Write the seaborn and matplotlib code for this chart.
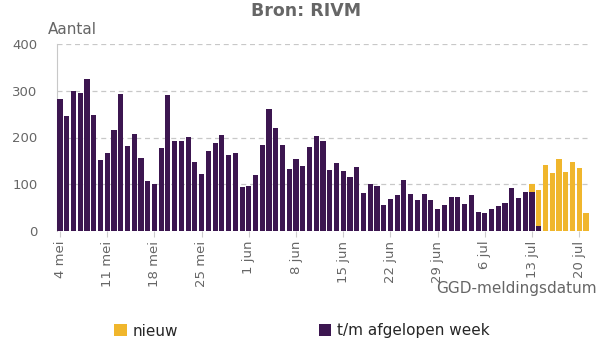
import matplotlib
matplotlib.use("Agg")
import matplotlib.pyplot as plt
import seaborn as sns
import pandas as pd
import numpy as np
from matplotlib.patches import Patch

# ---- data ----
dates = pd.date_range("2020-05-04", "2020-07-21", freq="D")
afgelopen_week = [283, 246, 299, 296, 326, 249, 152, 167, 217, 294, 182, 208, 157, 107, 101, 178,
                  291, 193, 193, 201, 148, 122, 171, 189, 206, 163, 167, 95, 97, 120, 184, 261,
                  221, 184, 133, 155, 139, 180, 204, 193, 131, 146, 129, 116, 137, 81, 101, 97,
                  56, 69, 76, 109, 79, 66, 79, 66, 47, 56, 73, 73, 58, 77, 41, 39, 47, 54, 60,
                  92, 71, 84, 84, 11, 0, 0, 0, 0, 0, 0, 0]
nieuw = [0] * 70 + [17, 77, 141, 124, 154, 126, 148, 135, 39]
tick_days = [0, 7, 14, 21, 28, 35, 42, 49, 56, 63, 70, 77]
tick_labels = ["4 mei", "11 mei", "18 mei", "25 mei", "1 jun", "8 jun", "15 jun",
               "22 jun", "29 jun", "6 jul", "13 jul", "20 jul"]
y_ticks = [0, 100, 200, 300, 400]

PURPLE = "#3c1650"
YELLOW = "#f0b62c"
GRAY = "#666666"

df = pd.DataFrame({
    "dag": np.arange(len(dates)),
    "afgelopen": afgelopen_week,
    "nieuw": nieuw,
})
df["totaal"] = df["afgelopen"] + df["nieuw"]

sns.set_theme(style="white")
plt.rcParams["font.family"] = ["DejaVu Sans"]

fig = plt.figure(figsize=(6.0, 3.59), dpi=100)
ax = fig.add_axes([57 / 600, 1 - 231 / 359, (589 - 57) / 600, (231 - 44) / 359])

sns.barplot(data=df, x="dag", y="totaal", native_scale=True, color=YELLOW,
            width=0.76, saturation=1, ax=ax, zorder=2, edgecolor="none", linewidth=0)
sns.barplot(data=df, x="dag", y="afgelopen", native_scale=True, color=PURPLE,
            width=0.76, saturation=1, ax=ax, zorder=3, edgecolor="none", linewidth=0)

ax.set_xlim(-0.45, 78.45)
ax.set_ylim(0, 400)
ax.set_yticks(y_ticks)
ax.set_yticklabels([str(v) for v in y_ticks], color=GRAY, fontsize=9.5)
ax.set_xticks(tick_days)
ax.set_xticklabels(tick_labels, rotation=90, color=GRAY, fontsize=9.5)
ax.tick_params(axis="x", which="major", bottom=True, length=4, width=0.8,
               color="#cccccc", pad=3)
ax.tick_params(axis="y", length=0, pad=14)
ax.set_xlabel("")
ax.set_ylabel("")

ax.yaxis.grid(True, linestyle=(0, (4, 3)), color="#c8c8c8", linewidth=0.9, zorder=0)
ax.set_axisbelow(True)
for s in ["top", "right", "bottom"]:
    ax.spines[s].set_visible(False)
ax.spines["left"].set_color("#c8c8c8")
ax.spines["left"].set_linewidth(0.8)

fig.text(306 / 600, 1 - 11 / 359, "Bron: RIVM", ha="center", va="center",
         fontsize=12.5, fontweight="bold", color=GRAY)
fig.text(48 / 600, 1 - 29 / 359, "Aantal", ha="left", va="center",
         fontsize=11, color=GRAY)
fig.text(597 / 600, 1 - 289 / 359, "GGD-meldingsdatum", ha="right", va="center",
         fontsize=11, color=GRAY)

handles = [Patch(facecolor=YELLOW, edgecolor="none", label="nieuw"),
           Patch(facecolor=PURPLE, edgecolor="none", label="t/m afgelopen week")]
fig.legend(handles=handles, loc="center", bbox_to_anchor=(302 / 600, 1 - 331 / 359),
           ncol=2, frameon=False, fontsize=11, handlelength=0.8, handleheight=0.8,
           handletextpad=0.4, columnspacing=9.2)

fig.savefig("out.png", dpi=100)
